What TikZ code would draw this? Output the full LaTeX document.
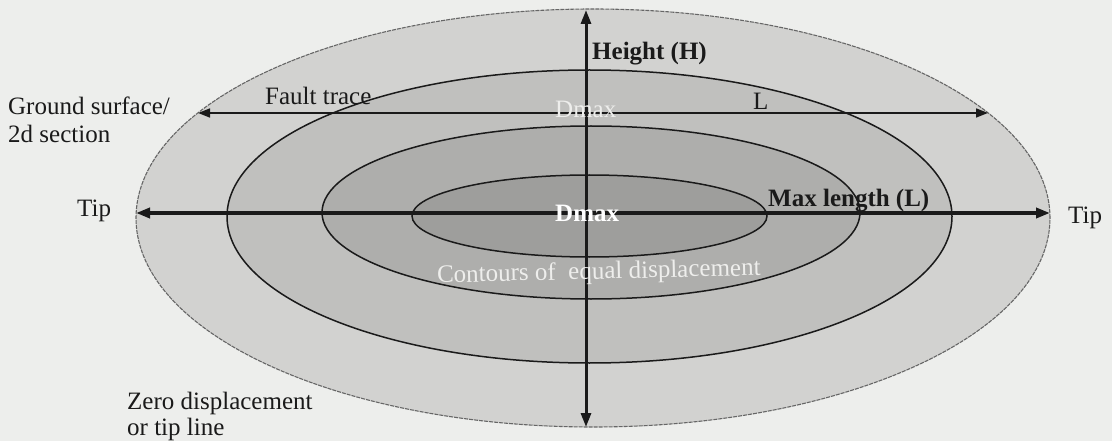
\documentclass[tikz,border=0pt]{standalone}
\usepackage{fontspec}
\setmainfont{Liberation Serif}
\usetikzlibrary{shapes.geometric,arrows.meta}
\definecolor{bg}{HTML}{EDEEEC}
\definecolor{bandA}{HTML}{D2D2D0}
\definecolor{bandB}{HTML}{C0C0BE}
\definecolor{bandC}{HTML}{AEAEAC}
\definecolor{bandD}{HTML}{9E9E9C}
\definecolor{inkc}{HTML}{1A1A1A}
\definecolor{paleink}{HTML}{EEEEEC}
\begin{document}
\begin{tikzpicture}[x=1pt,y=-1pt,
  lbl/.style={inner sep=0pt, anchor=base west, font=\fontsize{25}{28}\selectfont, text=inkc},
  blbl/.style={lbl, font=\fontsize{25}{28}\selectfont\bfseries},
  contour/.style={ellipse, draw=inkc, line width=1.5pt, inner sep=0pt, outer sep=0pt},
  bigtip/.style={{Triangle[length=14pt,width=10pt]}-{Triangle[length=14pt,width=10pt]}, draw=inkc},
  smalltip/.style={{Triangle[length=12pt,width=9pt]}-{Triangle[length=12pt,width=9pt]}, draw=inkc}]
\path[fill=bg] (0,0) rectangle (1112,441);
\useasboundingbox (0,0) rectangle (1112,441);
% contours
\node[contour, draw=black!60, line width=1.1pt, dash pattern=on 4pt off 1pt, fill=bandA, minimum width=914pt, minimum height=418pt] (z0) at (593,218) {};
\node[contour, fill=bandB, minimum width=725pt, minimum height=293pt] (z1) at (589.5,216.5) {};
\node[contour, fill=bandC, minimum width=538pt, minimum height=173pt] (z2) at (591,212.5) {};
\node[contour, fill=bandD, minimum width=355pt, minimum height=82pt] (z3) at (589.5,216) {};
% end points
\coordinate (tipL) at (136,213);
\coordinate (tipR) at (1050,213);
\coordinate (hTop) at (586,10);
\coordinate (hBot) at (586,427);
\coordinate (fL) at (198,113);
\coordinate (fR) at (988,113);
% arrows
\draw[smalltip, line width=1.7pt] (fL) -- (fR);
\draw[bigtip, line width=4pt] (tipL) -- (tipR);
\draw[bigtip, line width=3pt] (hTop) -- (hBot);
% labels
\node[lbl] (gs1) at (8,115) {Ground surface/};
\node[lbl] (gs2) at (8,143) {2d section};
\node[lbl] (ft) at (265,105) {Fault trace};
\node[lbl] (lL) at (753,110) {L};
\node[lbl, text=paleink] (dm1) at (555,118) {Dmax};
\node[blbl] (hh) at (592,60) {Height (H)};
\node[blbl] (ml) at (768,207) {Max length (L)};
\node[blbl, text=white] (dm2) at (555,222) {Dmax};
\node[lbl] (tl) at (77,216) {Tip};
\node[lbl] (tr) at (1068,223) {Tip};
\node[lbl, anchor=base, text=paleink, rotate=1.3] (ce) at (599,279) {Contours of\ \ equal displacement};
\node[lbl] (zd1) at (127,409) {Zero displacement};
\node[lbl] (zd2) at (127,435) {or tip line};
\end{tikzpicture}
\end{document}
